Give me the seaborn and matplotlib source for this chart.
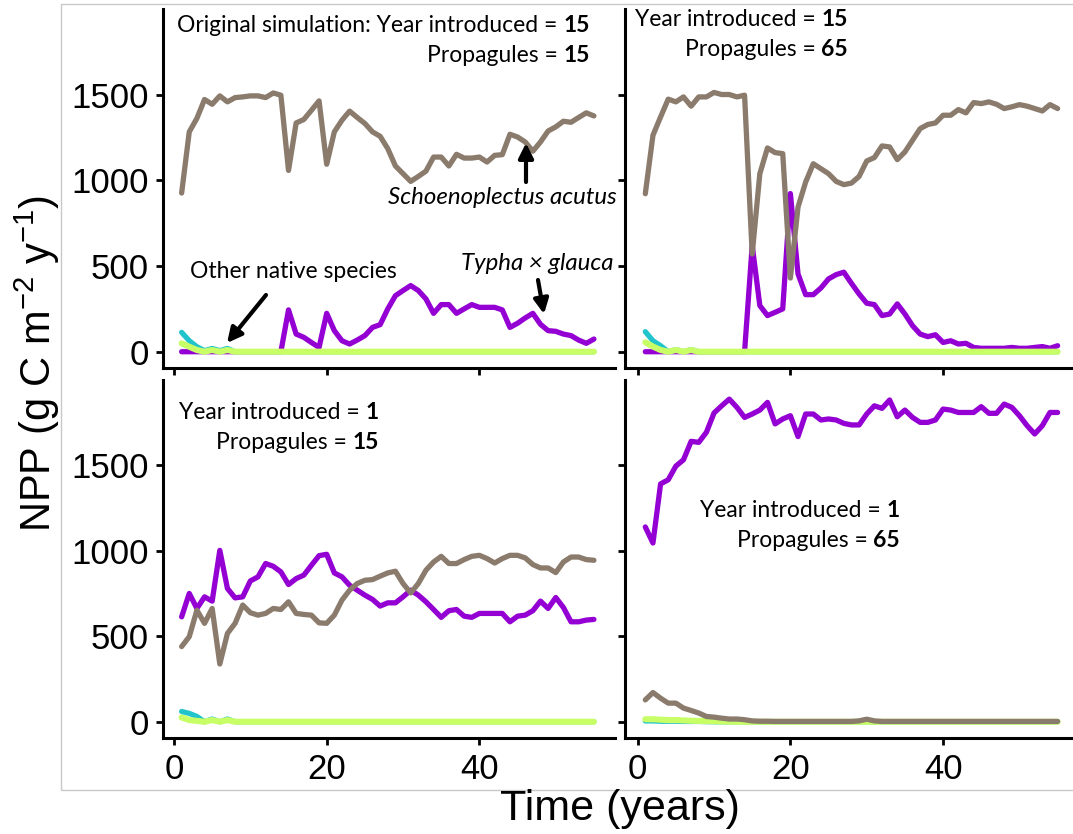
import numpy as np
import pandas as pd
import matplotlib
matplotlib.use("Agg")
import matplotlib.pyplot as plt
import seaborn as sns
from matplotlib.patches import Rectangle

# Données (NPP, g C m-2 y-1), années 1 à 55
years = list(range(1, 56))

tl_schoen = [926, 1283, 1362, 1472, 1444, 1493, 1458, 1483, 1487, 1493,
             1493, 1483, 1510, 1497, 1058, 1335, 1355, 1409, 1464, 1094,
             1283, 1351, 1404, 1367, 1332, 1283, 1257, 1185, 1084, 1039,
             994, 1023, 1054, 1136, 1136, 1084, 1152, 1130, 1130, 1136,
             1107, 1146, 1150, 1269, 1253, 1224, 1170, 1224, 1288, 1312,
             1345, 1339, 1367, 1394, 1376]
tl_typha = [0, 0, 0, 0, 0, 0, 0, 0, 0, 0,
            0, 0, 0, 0, 244, 103, 84, 54, 25, 224,
            123, 64, 45, 68, 94, 142, 158, 250, 327, 357,
            386, 357, 308, 224, 275, 275, 224, 250, 275, 259,
            259, 259, 244, 142, 166, 197, 224, 160, 123, 119,
            103, 94, 68, 49, 74]
tl_cyan = [113, 64, 29, 6, 19, 6, 19, 0, 0, 0,
           0, 0, 0, 0, 0, 0, 0, 0, 0, 0,
           0, 0, 0, 0, 0, 0, 0, 0, 0, 0,
           0, 0, 0, 0, 0, 0, 0, 0, 0, 0,
           0, 0, 0, 0, 0, 0, 0, 0, 0, 0,
           0, 0, 0, 0, 0]
tl_green = [49, 29, 10, 0, 10, 0, 10, 0, 0, 0,
            0, 0, 0, 0, 0, 0, 0, 0, 0, 0,
            0, 0, 0, 0, 0, 0, 0, 0, 0, 0,
            0, 0, 0, 0, 0, 0, 0, 0, 0, 0,
            0, 0, 0, 0, 0, 0, 0, 0, 0, 0,
            0, 0, 0, 0, 0]

tr_schoen = [922, 1263, 1370, 1474, 1458, 1487, 1433, 1487, 1487, 1513,
             1501, 1501, 1487, 1497, 570, 1039, 1189, 1162, 1156, 430,
             844, 990, 1097, 1068, 1039, 994, 975, 984, 1023, 1113,
             1133, 1201, 1195, 1121, 1166, 1234, 1302, 1326, 1335, 1380,
             1380, 1413, 1394, 1454, 1448, 1458, 1444, 1419, 1429, 1442,
             1433, 1419, 1405, 1442, 1419]
tr_typha = [0, 0, 0, 0, 0, 0, 0, 0, 0, 0,
            0, 0, 0, 0, 620, 269, 211, 230, 250, 923,
            454, 333, 333, 372, 425, 450, 464, 399, 337, 283,
            275, 211, 220, 279, 220, 152, 103, 88, 99, 54,
            64, 45, 49, 25, 20, 20, 20, 20, 25, 20,
            20, 25, 30, 20, 35]
tr_cyan = [117, 64, 35, 0, 12, 0, 12, 0, 0, 0,
           0, 0, 0, 0, 0, 0, 0, 0, 0, 0,
           0, 0, 0, 0, 0, 0, 0, 0, 0, 0,
           0, 0, 0, 0, 0, 0, 0, 0, 0, 0,
           0, 0, 0, 0, 0, 0, 0, 0, 0, 0,
           0, 0, 0, 0, 0]
tr_green = [55, 30, 10, 0, 10, 0, 10, 0, 0, 0,
            0, 0, 0, 0, 0, 0, 0, 0, 0, 0,
            0, 0, 0, 0, 0, 0, 0, 0, 0, 0,
            0, 0, 0, 0, 0, 0, 0, 0, 0, 0,
            0, 0, 0, 0, 0, 0, 0, 0, 0, 0,
            0, 0, 0, 0, 0]

bl_schoen = [440, 498, 653, 576, 663, 338, 517, 576, 683, 638,
             624, 634, 663, 657, 702, 634, 628, 624, 579, 576,
             624, 712, 770, 809, 828, 832, 852, 871, 881, 809,
             754, 809, 887, 935, 968, 926, 926, 949, 968, 974,
             955, 929, 955, 974, 974, 959, 920, 900, 900, 873,
             935, 964, 964, 949, 945]
bl_typha = [614, 751, 663, 731, 706, 1003, 780, 725, 731, 824,
            848, 926, 910, 877, 803, 838, 858, 916, 972, 980,
            871, 848, 799, 770, 741, 716, 677, 696, 696, 731,
            770, 741, 702, 657, 611, 650, 657, 618, 611, 634,
            634, 634, 634, 585, 618, 624, 650, 706, 663, 727,
            669, 585, 585, 595, 599]
bl_cyan = [60, 49, 31, 0, 16, 0, 16, 0, 0, 0,
           0, 0, 0, 0, 0, 0, 0, 0, 0, 0,
           0, 0, 0, 0, 0, 0, 0, 0, 0, 0,
           0, 0, 0, 0, 0, 0, 0, 0, 0, 0,
           0, 0, 0, 0, 0, 0, 0, 0, 0, 0,
           0, 0, 0, 0, 0]
bl_green = [25, 10, 5, 0, 10, 0, 10, 0, 0, 0,
            0, 0, 0, 0, 0, 0, 0, 0, 0, 0,
            0, 0, 0, 0, 0, 0, 0, 0, 0, 0,
            0, 0, 0, 0, 0, 0, 0, 0, 0, 0,
            0, 0, 0, 0, 0, 0, 0, 0, 0, 0,
            0, 0, 0, 0, 0]

br_schoen = [128, 171, 138, 109, 109, 80, 66, 51, 31, 27,
             21, 16, 16, 12, 5, 3, 3, 2, 2, 2,
             2, 2, 2, 2, 2, 2, 2, 2, 5, 15,
             5, 2, 2, 2, 2, 2, 2, 2, 2, 2,
             2, 2, 2, 2, 2, 2, 2, 2, 2, 2,
             2, 2, 2, 2, 2]
br_typha = [1140, 1046, 1392, 1416, 1496, 1533, 1641, 1635, 1694, 1807,
            1849, 1888, 1840, 1781, 1801, 1824, 1869, 1743, 1772, 1791,
            1669, 1801, 1801, 1766, 1772, 1766, 1746, 1737, 1737, 1801,
            1849, 1834, 1883, 1785, 1824, 1781, 1752, 1752, 1766, 1830,
            1824, 1810, 1810, 1810, 1844, 1805, 1805, 1859, 1840, 1791,
            1733, 1684, 1733, 1810, 1810]
br_cyan = [5, 5, 3, 3, 3, 2, 2, 2, 1, 0,
           0, 0, 0, 0, 0, 0, 0, 0, 0, 0,
           0, 0, 0, 0, 0, 0, 0, 0, 0, 0,
           0, 0, 0, 0, 0, 0, 0, 0, 0, 0,
           0, 0, 0, 0, 0, 0, 0, 0, 0, 0,
           0, 0, 0, 0, 0]
br_green = [15, 15, 12, 10, 10, 8, 6, 5, 4, 3,
            2, 1, 0, 0, 0, 0, 0, 0, 0, 0,
            0, 0, 0, 0, 0, 0, 0, 0, 0, 0,
            0, 0, 0, 0, 0, 0, 0, 0, 0, 0,
            0, 0, 0, 0, 0, 0, 0, 0, 0, 0,
            0, 0, 0, 0, 0]

yticks = [0, 500, 1000, 1500]
xticks = [0, 20, 40]

# Style
sns.set_style("ticks", {"axes.edgecolor": "black", "text.color": "black",
                        "xtick.color": "black", "ytick.color": "black",
                        "axes.labelcolor": "black"})
plt.rcParams["font.family"] = ["Liberation Sans", "DejaVu Sans"]
plt.rcParams["text.color"] = "black"
plt.rcParams["mathtext.fontset"] = "custom"
plt.rcParams["mathtext.rm"] = "Liberation Sans"
plt.rcParams["mathtext.it"] = "Liberation Sans:italic"

c_typha = "#9400d3"
c_cyan = "#22c4cc"
c_green = "#c8ff66"
c_schoen = "#8a7b6c"
annot_font = "Lato"
annot_size = 16.5
species_size = 17.3

W, H = 1073, 834


def box(l, t, r, b):
    return [l / W, 1 - b / H, (r - l) / W, (b - t) / H]


def fx(px):
    return px / W


def fy(py):
    return 1 - py / H


fig = plt.figure(figsize=(W / 100, H / 100), dpi=100)

panels = [
    (box(163, 9, 615, 368), (-1.44, 57.76), [tl_typha, tl_cyan, tl_green, tl_schoen], False, True),
    (box(625, 9, 1078, 368), (-1.66, 57.67), [tr_typha, tr_cyan, tr_green, tr_schoen], False, False),
    (box(163, 380, 615, 738), (-1.44, 57.76), [bl_typha, bl_cyan, bl_green, bl_schoen], True, True),
    (box(625, 380, 1078, 738), (-1.66, 57.67), [br_typha, br_cyan, br_green, br_schoen], True, False),
]
colors = [c_typha, c_cyan, c_green, c_schoen]
widths = [3.8, 3.8, 4.4, 3.8]

axes = []
for pos, xl, series, show_x, show_y in panels:
    ax = fig.add_axes(pos)
    for vals, col, lw in zip(series, colors, widths):
        df = pd.DataFrame({"year": years, "npp": vals})
        sns.lineplot(data=df, x="year", y="npp", color=col, linewidth=lw,
                     ax=ax, legend=False)
    ax.set_xlim(*xl)
    ax.set_ylim(-95, 2000)
    ax.set_xticks(xticks)
    ax.set_yticks(yticks)
    ax.set_xlabel("")
    ax.set_ylabel("")
    sns.despine(ax=ax)
    for s in ["left", "bottom"]:
        ax.spines[s].set_linewidth(2.2)
        ax.spines[s].set_color("black")
    ax.tick_params(axis="both", length=5, width=2, labelsize=25,
                   colors="black", labelcolor="black")
    ax.tick_params(axis="x", pad=6)
    ax.tick_params(axis="y", pad=5)
    if not show_x:
        ax.tick_params(axis="x", labelbottom=False)
    if not show_y:
        ax.tick_params(axis="y", labelleft=False)
    axes.append(ax)


def setting_label(ax, xr, yb, plain, num, size=annot_size):
    t = ax.text(fx(xr), fy(yb), num, transform=fig.transFigure, ha="right",
                va="baseline", fontsize=size, fontweight="bold",
                family=annot_font, color="black")
    ax.annotate(plain, xy=(0, 0), xycoords=t, ha="right", va="bottom",
                fontsize=size, family=annot_font, color="black")


setting_label(axes[0], 590, 32, "Original simulation: Year introduced = ", "15")
setting_label(axes[0], 590, 62, "Propagules = ", "15")
setting_label(axes[1], 848, 26, "Year introduced = ", "15")
setting_label(axes[1], 848, 56, "Propagules = ", "65")
setting_label(axes[2], 379, 419, "Year introduced = ", "1")
setting_label(axes[2], 379, 449, "Propagules = ", "15")
setting_label(axes[3], 900, 517, "Year introduced = ", "1")
setting_label(axes[3], 900, 547, "Propagules = ", "65")

# Noms d'espèces et flèches (panneau original)
fig.text(fx(502), fy(204), "Schoenoplectus acutus", ha="center", va="baseline",
         fontsize=species_size, style="italic", family=annot_font, color="black")
fig.text(fx(537), fy(270), "Typha × glauca", ha="center", va="baseline",
         fontsize=species_size, style="italic", family=annot_font, color="black")
fig.text(fx(293), fy(278), "Other native species", ha="center", va="baseline",
         fontsize=annot_size, family=annot_font, color="black")

arrow = dict(arrowstyle="-|>", lw=3, color="black", mutation_scale=22,
             shrinkA=0, shrinkB=0)
for tail, head in [((526, 182), (526, 143)), ((538, 280), (544, 314)),
                   ((266, 295), (227, 343))]:
    axes[0].annotate("", xy=(fx(head[0]), fy(head[1])), xycoords="figure fraction",
                     xytext=(fx(tail[0]), fy(tail[1])), textcoords="figure fraction",
                     arrowprops=arrow)

# Titres des axes
fig.text(fx(620), fy(820), "Time (years)", ha="center", va="baseline",
         fontsize=31, color="black")
fig.text(fx(37), 0.564, "NPP (g C m$^{-2}$ y$^{-1}$)", rotation=90,
         ha="center", va="center", fontsize=30, color="black")

# Cadre gris clair
fig.add_artist(Rectangle((fx(61), fy(790)), (1090 - 61) / W, (790 - 4) / H,
                         transform=fig.transFigure, fill=False,
                         edgecolor="#c8c8c8", linewidth=1))

plt.savefig("out.png", dpi=100)
plt.close()
